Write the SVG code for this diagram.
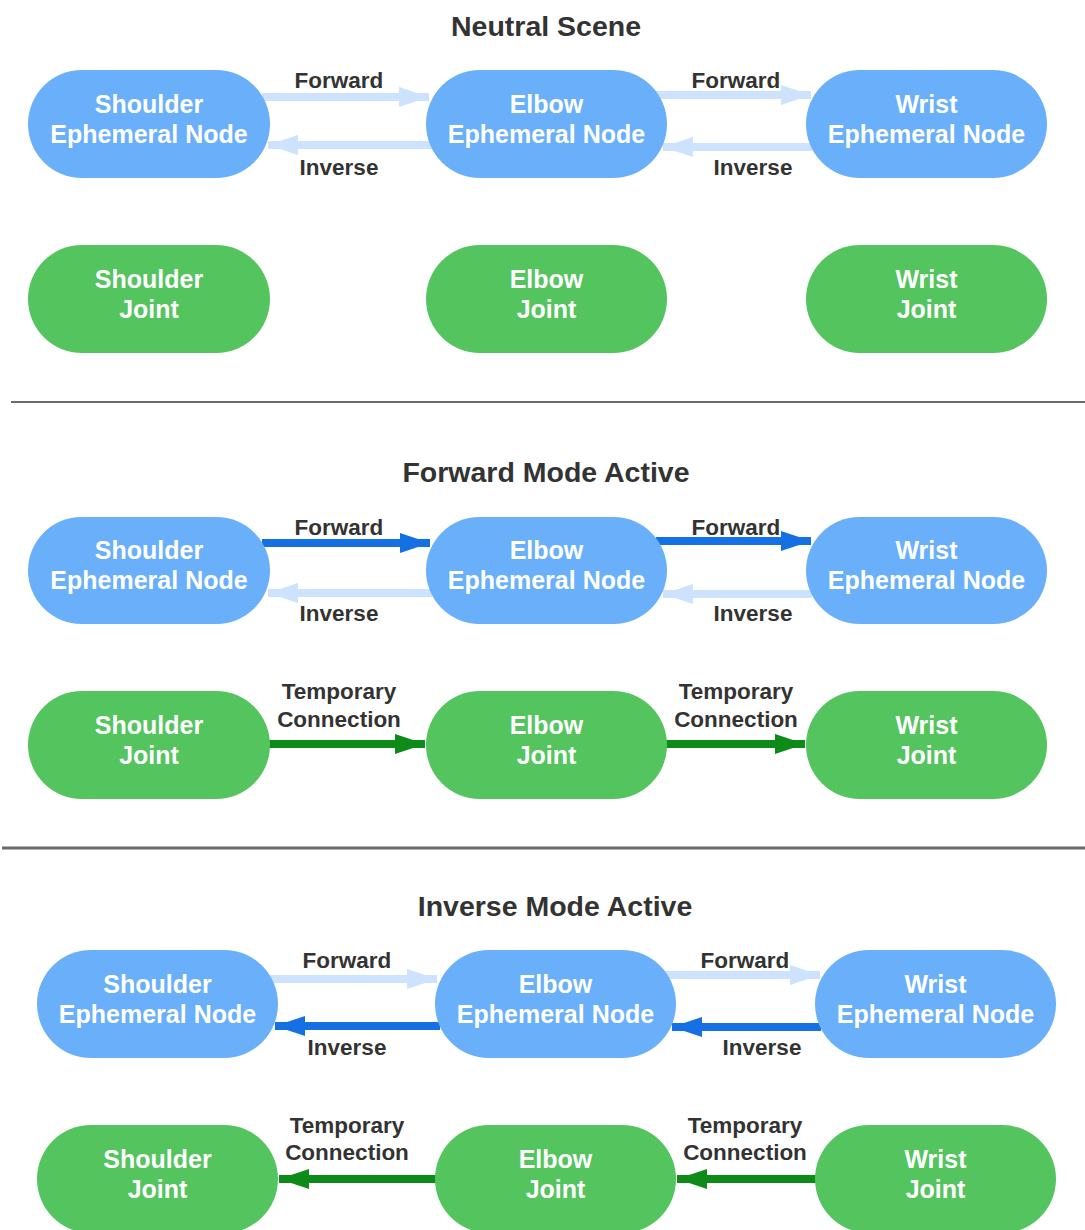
<svg xmlns="http://www.w3.org/2000/svg" width="1085" height="1230" viewBox="0 0 1085 1230">
  <style>
    .eph { fill: #6AAFFA; }
    .jnt { fill: #54C45E; }
    .nt { font-family: "Liberation Sans", Arial, sans-serif; font-weight: bold; font-size: 25px; fill: #FFFFFF; text-anchor: middle; }
    .title { font-family: "Liberation Sans", Arial, sans-serif; font-weight: bold; font-size: 28.5px; fill: #333333; text-anchor: middle; }
    .lbl { font-family: "Liberation Sans", Arial, sans-serif; font-weight: bold; font-size: 22.5px; fill: #333333; text-anchor: middle; }
    .light { stroke: #CDE2FC; stroke-width: 8; fill: none; marker-end: url(#headLight); }
    .dark { stroke: #1570E3; stroke-width: 8; fill: none; marker-end: url(#headDark); }
    .temp { stroke: #0E8A18; stroke-width: 8; fill: none; marker-end: url(#headTemp); }
    .sep { stroke: #6A6A6A; }
  </style>
  <defs>
    <marker id="headLight" viewBox="0 0 30 20" refX="30" refY="10" markerWidth="30" markerHeight="20" markerUnits="userSpaceOnUse" orient="auto">
      <path d="M0,0 L30,10 L0,20 z" fill="#CDE2FC"/>
    </marker>
    <marker id="headDark" viewBox="0 0 30 20" refX="30" refY="10" markerWidth="30" markerHeight="20" markerUnits="userSpaceOnUse" orient="auto">
      <path d="M0,0 L30,10 L0,20 z" fill="#1570E3"/>
    </marker>
    <marker id="headTemp" viewBox="0 0 30 20" refX="30" refY="10" markerWidth="30" markerHeight="20" markerUnits="userSpaceOnUse" orient="auto">
      <path d="M0,0 L30,10 L0,20 z" fill="#0E8A18"/>
    </marker>
  </defs>

  <rect width="1085" height="1230" fill="#FFFFFF"/>

  <!-- section titles and dividers -->
  <text class="title" x="546" y="36">Neutral Scene</text>
  <text class="title" x="546" y="482">Forward Mode Active</text>
  <text class="title" x="555" y="916">Inverse Mode Active</text>
  <line class="sep" x1="11" y1="402" x2="1085" y2="402" stroke-width="2"/>
  <line class="sep" x1="2" y1="848" x2="1085" y2="848" stroke-width="3"/>

  <!-- connectors -->
  <g id="connectors">
    <!-- neutral scene -->
    <line class="light" x1="262" y1="97" x2="429" y2="97"/>
    <line class="light" x1="432" y1="145" x2="268" y2="145"/>
    <line class="light" x1="656" y1="95" x2="811" y2="95"/>
    <line class="light" x1="812" y1="147" x2="663" y2="147"/>
    <!-- forward mode -->
    <line class="dark" x1="262" y1="543" x2="430" y2="543"/>
    <line class="light" x1="432" y1="593" x2="268" y2="593"/>
    <line class="dark" x1="656" y1="541" x2="811" y2="541"/>
    <line class="light" x1="812" y1="594" x2="663" y2="594"/>
    <line class="temp" x1="268" y1="744" x2="425" y2="744"/>
    <line class="temp" x1="665" y1="744" x2="805" y2="744"/>
    <!-- inverse mode -->
    <line class="light" x1="270" y1="979" x2="437" y2="979"/>
    <line class="dark" x1="440" y1="1026" x2="275" y2="1026"/>
    <line class="light" x1="665" y1="975" x2="820" y2="975"/>
    <line class="dark" x1="821" y1="1027" x2="672" y2="1027"/>
    <line class="temp" x1="437" y1="1179" x2="279" y2="1179"/>
    <line class="temp" x1="817" y1="1179" x2="677" y2="1179"/>

    <!-- connector labels -->
    <text class="lbl" x="339" y="88">Forward</text>
    <text class="lbl" x="339" y="175">Inverse</text>
    <text class="lbl" x="736" y="88">Forward</text>
    <text class="lbl" x="753" y="175">Inverse</text>

    <text class="lbl" x="339" y="535">Forward</text>
    <text class="lbl" x="339" y="621">Inverse</text>
    <text class="lbl" x="736" y="535">Forward</text>
    <text class="lbl" x="753" y="621">Inverse</text>
    <text class="lbl" x="339" y="699">Temporary</text>
    <text class="lbl" x="339" y="727">Connection</text>
    <text class="lbl" x="736" y="699">Temporary</text>
    <text class="lbl" x="736" y="727">Connection</text>

    <text class="lbl" x="347" y="968">Forward</text>
    <text class="lbl" x="347" y="1055">Inverse</text>
    <text class="lbl" x="745" y="968">Forward</text>
    <text class="lbl" x="762" y="1055">Inverse</text>
    <text class="lbl" x="347" y="1133">Temporary</text>
    <text class="lbl" x="347" y="1160">Connection</text>
    <text class="lbl" x="745" y="1133">Temporary</text>
    <text class="lbl" x="745" y="1160">Connection</text>
  </g>

  <!-- neutral scene nodes -->
  <g id="n1-shoulder-eph"><rect class="eph" x="28" y="70" width="242" height="108" rx="54"/><text class="nt" x="149" y="113">Shoulder</text><text class="nt" x="149" y="143">Ephemeral Node</text></g>
  <g id="n1-elbow-eph"><rect class="eph" x="426" y="70" width="241" height="108" rx="54"/><text class="nt" x="546.5" y="113">Elbow</text><text class="nt" x="546.5" y="143">Ephemeral Node</text></g>
  <g id="n1-wrist-eph"><rect class="eph" x="806" y="70" width="241" height="108" rx="54"/><text class="nt" x="926.5" y="113">Wrist</text><text class="nt" x="926.5" y="143">Ephemeral Node</text></g>
  <g id="n1-shoulder-jnt"><rect class="jnt" x="28" y="245" width="242" height="108" rx="54"/><text class="nt" x="149" y="288">Shoulder</text><text class="nt" x="149" y="318">Joint</text></g>
  <g id="n1-elbow-jnt"><rect class="jnt" x="426" y="245" width="241" height="108" rx="54"/><text class="nt" x="546.5" y="288">Elbow</text><text class="nt" x="546.5" y="318">Joint</text></g>
  <g id="n1-wrist-jnt"><rect class="jnt" x="806" y="245" width="241" height="108" rx="54"/><text class="nt" x="926.5" y="288">Wrist</text><text class="nt" x="926.5" y="318">Joint</text></g>

  <!-- forward mode nodes -->
  <g id="n2-shoulder-eph"><rect class="eph" x="28" y="517" width="242" height="107" rx="53.5"/><text class="nt" x="149" y="559">Shoulder</text><text class="nt" x="149" y="589">Ephemeral Node</text></g>
  <g id="n2-elbow-eph"><rect class="eph" x="426" y="517" width="241" height="107" rx="53.5"/><text class="nt" x="546.5" y="559">Elbow</text><text class="nt" x="546.5" y="589">Ephemeral Node</text></g>
  <g id="n2-wrist-eph"><rect class="eph" x="806" y="517" width="241" height="107" rx="53.5"/><text class="nt" x="926.5" y="559">Wrist</text><text class="nt" x="926.5" y="589">Ephemeral Node</text></g>
  <g id="n2-shoulder-jnt"><rect class="jnt" x="28" y="691" width="242" height="108" rx="54"/><text class="nt" x="149" y="734">Shoulder</text><text class="nt" x="149" y="764">Joint</text></g>
  <g id="n2-elbow-jnt"><rect class="jnt" x="426" y="691" width="241" height="108" rx="54"/><text class="nt" x="546.5" y="734">Elbow</text><text class="nt" x="546.5" y="764">Joint</text></g>
  <g id="n2-wrist-jnt"><rect class="jnt" x="806" y="691" width="241" height="108" rx="54"/><text class="nt" x="926.5" y="734">Wrist</text><text class="nt" x="926.5" y="764">Joint</text></g>

  <!-- inverse mode nodes -->
  <g id="n3-shoulder-eph"><rect class="eph" x="37" y="950" width="241" height="108" rx="54"/><text class="nt" x="157.5" y="993">Shoulder</text><text class="nt" x="157.5" y="1023">Ephemeral Node</text></g>
  <g id="n3-elbow-eph"><rect class="eph" x="435" y="950" width="241" height="108" rx="54"/><text class="nt" x="555.5" y="993">Elbow</text><text class="nt" x="555.5" y="1023">Ephemeral Node</text></g>
  <g id="n3-wrist-eph"><rect class="eph" x="815" y="950" width="241" height="108" rx="54"/><text class="nt" x="935.5" y="993">Wrist</text><text class="nt" x="935.5" y="1023">Ephemeral Node</text></g>
  <g id="n3-shoulder-jnt"><rect class="jnt" x="37" y="1125" width="241" height="108" rx="54"/><text class="nt" x="157.5" y="1168">Shoulder</text><text class="nt" x="157.5" y="1198">Joint</text></g>
  <g id="n3-elbow-jnt"><rect class="jnt" x="435" y="1125" width="241" height="108" rx="54"/><text class="nt" x="555.5" y="1168">Elbow</text><text class="nt" x="555.5" y="1198">Joint</text></g>
  <g id="n3-wrist-jnt"><rect class="jnt" x="815" y="1125" width="241" height="108" rx="54"/><text class="nt" x="935.5" y="1168">Wrist</text><text class="nt" x="935.5" y="1198">Joint</text></g>
</svg>
